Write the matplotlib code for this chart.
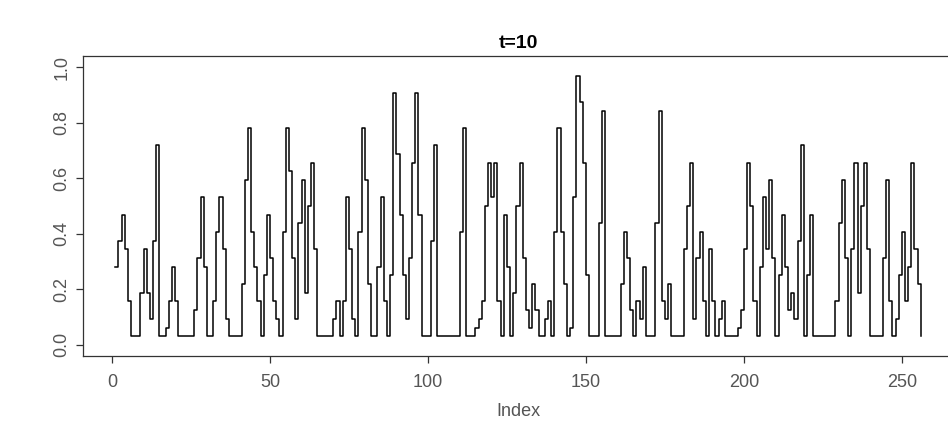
import numpy as np
import matplotlib.pyplot as plt

plt.rcParams['font.family'] = ['Liberation Sans', 'DejaVu Sans']

# state of each of the 256 cells at t=10, in units of 1/32
cells_1_64 = [9, 12, 15, 11, 5, 1, 1, 1, 6, 11, 6, 3, 12, 23, 1, 1,
              2, 5, 9, 5, 1, 1, 1, 1, 1, 4, 10, 17, 9, 1, 1, 5,
              13, 17, 11, 3, 1, 1, 1, 1, 7, 19, 25, 13, 9, 5, 1, 8,
              15, 10, 5, 3, 1, 13, 25, 20, 10, 3, 14, 19, 6, 16, 21, 11]
cells_65_128 = [1, 1, 1, 1, 1, 3, 5, 1, 5, 17, 11, 3, 1, 13, 25, 19,
                7, 1, 1, 9, 17, 5, 1, 8, 29, 22, 15, 8, 3, 10, 21, 29,
                15, 1, 1, 1, 12, 23, 1, 1, 1, 1, 1, 1, 1, 13, 25, 1,
                1, 1, 2, 3, 5, 16, 21, 17, 21, 5, 1, 15, 9, 1, 6, 16]
cells_129_192 = [21, 10, 4, 2, 7, 4, 1, 1, 3, 5, 1, 13, 25, 13, 7, 1,
                 2, 17, 31, 28, 21, 8, 1, 1, 1, 14, 27, 1, 1, 1, 1, 1,
                 7, 13, 10, 4, 1, 5, 3, 9, 1, 1, 1, 14, 27, 5, 3, 7,
                 1, 1, 1, 1, 11, 16, 21, 3, 10, 13, 5, 1, 11, 5, 1, 3]
cells_193_256 = [5, 1, 1, 1, 1, 2, 4, 11, 21, 16, 5, 1, 9, 17, 11, 19,
                 10, 1, 8, 15, 9, 4, 6, 3, 12, 23, 1, 8, 15, 1, 1, 1,
                 1, 1, 1, 1, 5, 14, 19, 10, 1, 11, 21, 6, 16, 21, 11, 1,
                 1, 1, 1, 10, 19, 5, 1, 3, 8, 13, 5, 9, 21, 11, 7, 1]

x_ticks = [0, 50, 100, 150, 200, 250]
y_ticks = [0.0, 0.2, 0.4, 0.6, 0.8, 1.0]
y_tick_labels = ['0.0', '0.2', '0.4', '0.6', '0.8', '1.0']

values = np.array(cells_1_64 + cells_65_128 + cells_129_192 + cells_193_256) / 32
index = np.arange(1, len(values) + 1)

W, H = 948, 430
fig = plt.figure(figsize=(W / 100, H / 100), dpi=100)
ax = fig.add_axes([83 / W, 74 / H, 870 / W, 300 / H])

# R-style type="s" line
ax.step(index, values, where='post', color='black', lw=1.1)

ax.set_xlim(-9.2, 266.2)
ax.set_ylim(-0.04, 1.04)

for s in ax.spines.values():
    s.set_color('#333333')
    s.set_linewidth(0.9)

ax.set_xticks(x_ticks)
ax.set_xticklabels([str(t) for t in x_ticks])
ax.set_yticks(y_ticks)
ax.set_yticklabels(y_tick_labels, rotation=90, va='center')
ax.tick_params(axis='both', direction='out', length=5, width=0.9,
               color='#333333', labelcolor='#555555', labelsize=13)
ax.tick_params(axis='x', pad=8)
ax.tick_params(axis='y', pad=4)

fig.text(518 / W, 1 - 43 / H, 't=10', ha='center', va='center',
         fontsize=14, fontweight='bold', color='black')
fig.text(518 / W, 1 - 412 / H, 'Index', ha='center', va='center',
         fontsize=13, color='#555555')

fig.savefig('out.png', dpi=100)
